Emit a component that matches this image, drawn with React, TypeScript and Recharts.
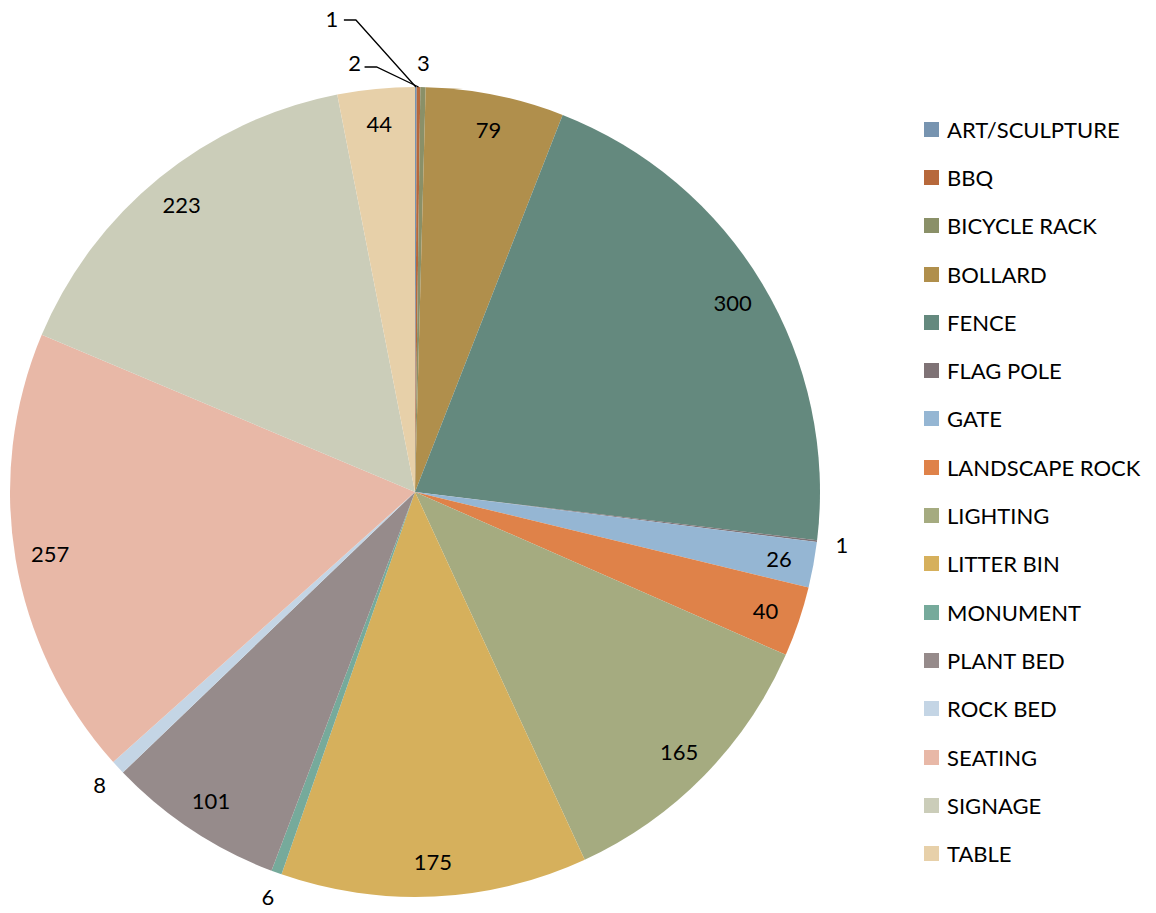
import React from 'react';
import { PieChart, Pie, Cell, Legend } from 'recharts';

const categories = [
    'ART/SCULPTURE', 'BBQ', 'BICYCLE RACK', 'BOLLARD', 'FENCE', 'FLAG POLE', 'GATE',
    'LANDSCAPE ROCK', 'LIGHTING', 'LITTER BIN', 'MONUMENT', 'PLANT BED', 'ROCK BED',
    'SEATING', 'SIGNAGE', 'TABLE',
];

const counts = [1, 2, 3, 79, 300, 1, 26, 40, 165, 175, 6, 101, 8, 257, 223, 44];

const colors = [
    '#7794b0', '#b7683b', '#8a9068', '#b08f4c', '#64897e', '#7f7376', '#95b6d3',
    '#df8249', '#a5ab80', '#d6b05c', '#76aa9b', '#968b8b', '#c4d5e5',
    '#e8b8a7', '#cbcdb9', '#e7d0a9',
];

const FONT = 'Lato, "Open Sans", sans-serif';
const RADIAN = Math.PI / 180;

const chartData = categories.map((name, i) => ({ name, value: counts[i], color: colors[i] }));

// small slices at the top get a label pulled out with a leader line
const leaders: Record<number, { tx: number; ty: number; ex: number; ey: number }> = {
    0: { tx: -84, ty: -69, ex: -60, ey: -67 },
    1: { tx: -64, ty: -25, ex: -42, ey: -20 },
};

function renderLabel(props: any) {
    const { cx, cy, midAngle, outerRadius, value, index } = props;
    const cos = Math.cos(-midAngle * RADIAN);
    const sin = Math.sin(-midAngle * RADIAN);

    const lead = leaders[index];
    if (lead) {
        const ax = cx + outerRadius * cos;
        const ay = cy + outerRadius * sin;
        const ex = ax + lead.ex;
        const ey = ay + lead.ey;
        return (
            <g key={`lbl-${index}`}>
                <polyline
                    points={`${ax},${ay} ${ex},${ey} ${ex - 12},${ey}`}
                    fill="none"
                    stroke="#000"
                    strokeWidth={1.3}
                />
                <text x={ax + lead.tx} y={ay + lead.ty} textAnchor="middle" dominantBaseline="central"
                    fontFamily={FONT} fontSize={22} fill="#000">{value}</text>
            </g>
        );
    }

    const r = value >= 26 ? outerRadius - 35 : outerRadius + 25;
    return (
        <text key={`lbl-${index}`} x={cx + r * cos} y={cy + r * sin} textAnchor="middle" dominantBaseline="central"
            fontFamily={FONT} fontSize={22} fill="#000">{value}</text>
    );
}

function renderLegend(props: any) {
    const { payload } = props;
    return (
        <div style={{ fontFamily: FONT, fontSize: 22, color: '#000' }}>
            {(payload || []).map((entry: any, i: number) => (
                <div key={`leg-${i}`} style={{ display: 'flex', alignItems: 'center', height: 48.3 }}>
                    <span style={{ display: 'inline-block', width: 15, height: 15, background: entry.color, marginRight: 8 }} />
                    <span>{entry.value}</span>
                </div>
            ))}
        </div>
    );
}

export default function App() {
    return (
        <div style={{ width: 1156, height: 913, margin: -8, background: '#fff' }}>
            <PieChart width={1156} height={913} margin={{ top: 0, right: 0, bottom: 0, left: 0 }}>
                <Pie
                    data={chartData}
                    dataKey="value"
                    nameKey="name"
                    cx={415}
                    cy={492}
                    outerRadius={405}
                    startAngle={90}
                    endAngle={-270}
                    stroke="none"
                    labelLine={false}
                    label={renderLabel}
                    isAnimationActive={false}
                >
                    {chartData.map((entry, index) => (
                        <Cell key={`cell-${index}`} fill={entry.color} />
                    ))}
                </Pie>
                <Legend
                    layout="vertical"
                    content={renderLegend}
                    wrapperStyle={{ position: 'absolute', left: 924, top: 105, width: 232 }}
                />
            </PieChart>
        </div>
    );
}
